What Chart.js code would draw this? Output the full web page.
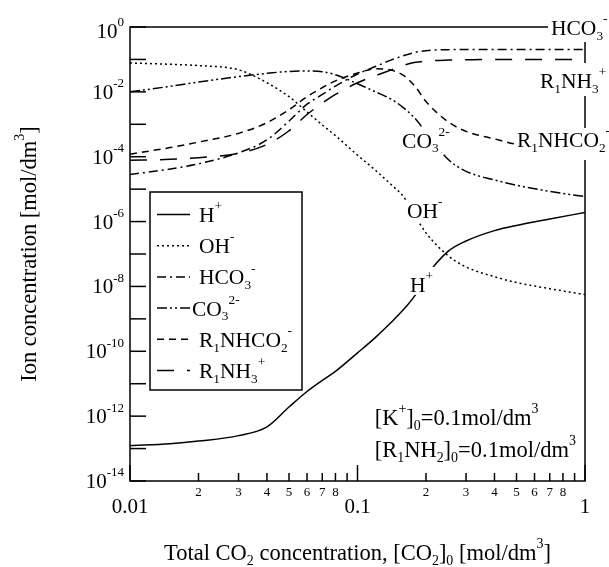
<!DOCTYPE html>
<html><head><meta charset="utf-8">
<script src="https://cdn.jsdelivr.net/npm/chart.js@4"></script>
<style>html,body{margin:0;padding:0;background:#fff;}canvas{display:block;}</style>
</head><body>
<canvas id="c" width="609" height="567"></canvas>
<script>
// ---- data ----
const co2Total = [0.01,0.015,0.02,0.03,0.04,0.05,0.06,0.07,0.08,0.1,0.12,0.14,0.16,0.18,0.2,0.25,0.3,0.4,0.5,0.7,1];
const hPlus    = [1.23e-13,1.41e-13,1.70e-13,2.51e-13,4.68e-13,1.91e-12,5.75e-12,1.26e-11,2.40e-11,8.91e-11,2.69e-10,7.59e-10,2.00e-9,5.62e-9,2.00e-8,1.20e-7,2.51e-7,5.25e-7,7.59e-7,1.20e-6,1.91e-6];
const ohMinus  = [7.76e-2,7.08e-2,6.46e-2,4.79e-2,1.91e-2,7.08e-3,2.40e-3,9.55e-4,4.47e-4,1.12e-4,3.80e-5,1.41e-5,5.62e-6,1.41e-6,4.47e-7,8.91e-8,3.98e-8,2.00e-8,1.32e-8,8.51e-9,5.62e-9];
const hco3     = [2.82e-5,4.17e-5,6.03e-5,1.32e-4,3.31e-4,1.26e-3,4.17e-3,8.32e-3,1.51e-2,3.55e-2,6.03e-2,9.55e-2,0.132,0.166,0.186,0.200,0.203,0.204,0.204,0.204,0.204];
const co3      = [1.00e-2,1.48e-2,2.00e-2,2.95e-2,3.72e-2,4.27e-2,4.37e-2,4.17e-2,3.39e-2,1.78e-2,1.00e-2,6.03e-3,3.16e-3,1.45e-3,5.62e-4,8.32e-5,3.55e-5,1.91e-5,1.32e-5,8.51e-6,5.89e-6];
const carbamate= [1.20e-4,1.91e-4,2.82e-4,5.25e-4,1.12e-3,2.82e-3,7.08e-3,1.35e-2,2.19e-2,3.80e-2,5.13e-2,4.68e-2,3.16e-2,1.41e-2,5.01e-3,1.20e-3,6.03e-4,3.55e-4,2.40e-4,1.66e-4,1.32e-4];
const amineH   = [7.76e-5,8.32e-5,9.33e-5,1.26e-4,2.40e-4,6.31e-4,2.00e-3,4.47e-3,8.32e-3,1.91e-2,3.16e-2,4.68e-2,6.61e-2,8.13e-2,8.91e-2,9.55e-2,9.77e-2,0.100,0.100,0.100,0.100];

const seriesLabels = ['H^{+}','OH^{-}','HCO_{3}^{-}','CO_{3}^{2-}','R_{1}NHCO_{2}^{-}','R_{1}NH_{3}^{+}'];
const seriesValues = [hPlus, ohMinus, hco3, co3, carbamate, amineH];
const seriesDash   = [[], [2,3], [9,4,2,4], [10,3,2,3,2,3], [7,5], [17,13]];

const yDecades     = [1,1e-1,1e-2,1e-3,1e-4,1e-5,1e-6,1e-7,1e-8,1e-9,1e-10,1e-11,1e-12,1e-13,1e-14];
const yLabelValues = [1,1e-2,1e-4,1e-6,1e-8,1e-10,1e-12,1e-14];
const yTickLabels  = ['10^{0}','10^{-2}','10^{-4}','10^{-6}','10^{-8}','10^{-10}','10^{-12}','10^{-14}'];
const xMajorValues = [0.01,0.1,1];
const xMajorLabels = ['0.01','0.1','1'];
const xMinorValues = [0.02,0.03,0.04,0.05,0.06,0.07,0.08,0.09,0.2,0.3,0.4,0.5,0.6,0.7,0.8,0.9];
const xMinorLabels = ['2','3','4','5','6','7','8','','2','3','4','5','6','7','8',''];

const xTitle = 'Total CO_{2} concentration, [CO_{2}]_{0} [mol/dm^{3}]';
const yTitle = 'Ion concentration [mol/dm^{3}]';
const noteLines = ['[K^{+}]_{0}=0.1mol/dm^{3}', '[R_{1}NH_{2}]_{0}=0.1mol/dm^{3}'];

// ---- rich text helpers ----
const FONT = '"Liberation Serif","Times New Roman",serif';
function parseRich(s){
  const out=[]; let buf=''; let i=0;
  while(i<s.length){
    const c=s[i];
    if((c==='^'||c==='_') && s[i+1]==='{'){
      if(buf){out.push({t:buf,m:0}); buf='';}
      const e=s.indexOf('}',i);
      out.push({t:s.slice(i+2,e), m:c==='^'?1:-1});
      i=e+1;
    } else { buf+=c; i++; }
  }
  if(buf) out.push({t:buf,m:0});
  return out;
}
function richWidth(ctx,s,size){
  let w=0;
  parseRich(s).forEach(p=>{
    ctx.font=(p.m?size*0.62:size)+'px '+FONT;
    w+=ctx.measureText(p.t).width;
  });
  return w;
}
function drawRich(ctx,s,x,y,size,align){
  const w=richWidth(ctx,s,size);
  let cx = align==='right'? x-w : align==='center'? x-w/2 : x;
  ctx.textBaseline='alphabetic'; ctx.textAlign='left'; ctx.fillStyle='#000';
  parseRich(s).forEach(p=>{
    const sz = p.m? size*0.62 : size;
    ctx.font = sz+'px '+FONT;
    const dy = p.m===1 ? -size*0.55 : p.m===-1 ? size*0.22 : 0;
    ctx.fillText(p.t, cx, y+dy);
    cx += ctx.measureText(p.t).width;
  });
  return w;
}
function seg(ctx,x1,y1,x2,y2){ctx.beginPath();ctx.moveTo(x1,y1);ctx.lineTo(x2,y2);ctx.stroke();}

const decor = {
  id:'decor',
  afterDraw(chart){
    const {ctx, chartArea:a, scales:{x,y}} = chart;
    ctx.save();
    ctx.strokeStyle='#000'; ctx.lineWidth=1.5; ctx.setLineDash([]);
    ctx.strokeRect(a.left, a.top, a.right-a.left, a.bottom-a.top);
    // y ticks (inside)
    yDecades.forEach(v=>{const py=y.getPixelForValue(v); seg(ctx,a.left,py,a.left+16,py);});
    // x ticks (inside)
    xMinorValues.forEach(v=>{const px=x.getPixelForValue(v); seg(ctx,px,a.bottom,px,a.bottom-8);});
    xMajorValues.forEach(v=>{const px=x.getPixelForValue(v); seg(ctx,px,a.bottom,px,a.bottom-16);});
    // y tick labels
    yLabelValues.forEach((v,i)=>{
      const py=y.getPixelForValue(v);
      drawRich(ctx,yTickLabels[i],a.left-6,Math.max(py+7,a.top+11),21,'right');
    });
    // x tick labels
    xMajorValues.forEach((v,i)=>drawRich(ctx,xMajorLabels[i],x.getPixelForValue(v),a.bottom+32,21,'center'));
    xMinorValues.forEach((v,i)=>{ if(xMinorLabels[i]) drawRich(ctx,xMinorLabels[i],x.getPixelForValue(v),a.bottom+15,13,'center');});
    // axis titles
    drawRich(ctx,xTitle,(a.left+a.right)/2,a.bottom+79,22.5,'center');
    ctx.save(); ctx.translate(a.left-102,(a.top+a.bottom)/2); ctx.rotate(-Math.PI/2);
    drawRich(ctx,yTitle,0,8,22.5,'center'); ctx.restore();

    // curve labels with white background
    function tag(txt,lx,base,size,box){
      ctx.fillStyle='#fff'; ctx.fillRect(box[0],box[1],box[2]-box[0],box[3]-box[1]);
      drawRich(ctx,txt,lx,base,size,'left');
    }
    tag('HCO_{3}^{-}', a.right-34, a.top+8, 21.5, [a.right-37, a.top-12, 609, a.top+15]);
    tag('R_{1}NH_{3}^{+}', a.right-45, a.top+61, 21.5, [a.right-47, a.top+36, 609, a.top+69]);
    tag('R_{1}NHCO_{2}^{-}', a.right-68, a.top+120, 21.5, [a.right-71, a.top+101, 609, a.top+133]);
    const cx3=x.getPixelForValue(0.157), cy3=y.getPixelForValue(1.9e-4);
    tag('CO_{3}^{2-}', cx3, cy3, 21.5, [cx3-2, cy3-20, cx3+50, cy3+5]);
    const ohx=x.getPixelForValue(0.165), ohy=y.getPixelForValue(1.3e-6);
    tag('OH^{-}', ohx, ohy, 21.5, [ohx-2, ohy-17, ohx+38, ohy+4]);
    const hx=x.getPixelForValue(0.17), hy=y.getPixelForValue(6.8e-9);
    tag('H^{+}', hx, hy, 21.5, [hx-2, hy-25, hx+27, hy+3]);

    // notes
    drawRich(ctx,noteLines[0],x.getPixelForValue(0.119),a.bottom-56,22.5,'left');
    drawRich(ctx,noteLines[1],x.getPixelForValue(0.119),a.bottom-24,22.5,'left');

    // legend box
    const L=a.left+20, T=a.top+165, W=152, H=198;
    ctx.fillStyle='#fff'; ctx.fillRect(L,T,W,H);
    ctx.strokeStyle='#000'; ctx.lineWidth=1.5; ctx.setLineDash([]);
    ctx.strokeRect(L,T,W,H);
    seriesLabels.forEach((lab,i)=>{
      const base=T+30+i*31.2;
      ctx.setLineDash(seriesDash[i]); ctx.lineWidth=1.5;
      seg(ctx,L+7,base-7.5,L+40,base-7.5);
      ctx.setLineDash([]);
      drawRich(ctx,lab, i===3? L+42 : L+49, base, 21.5,'left');
    });
    ctx.restore();
  }
};

const datasets = seriesValues.map((vals,i)=>({
  label: seriesLabels[i],
  data: co2Total.map((c,j)=>({x:c, y:vals[j]})),
  borderColor:'#000', borderWidth:1.5, borderDash: seriesDash[i],
  pointRadius:0, fill:false, cubicInterpolationMode:'monotone'
}));

new Chart(document.getElementById('c').getContext('2d'), {
  type:'line',
  data:{datasets},
  options:{
    responsive:false, animation:false,
    layout:{padding:{left:130,top:27,right:24,bottom:86}},
    plugins:{legend:{display:false}, tooltip:{enabled:false}},
    scales:{
      x:{type:'logarithmic',min:0.01,max:1,ticks:{display:false},grid:{display:false,drawTicks:false},border:{display:false}},
      y:{type:'logarithmic',min:1e-14,max:1,ticks:{display:false},grid:{display:false,drawTicks:false},border:{display:false}}
    }
  },
  plugins:[decor]
});
</script>
</body></html>
